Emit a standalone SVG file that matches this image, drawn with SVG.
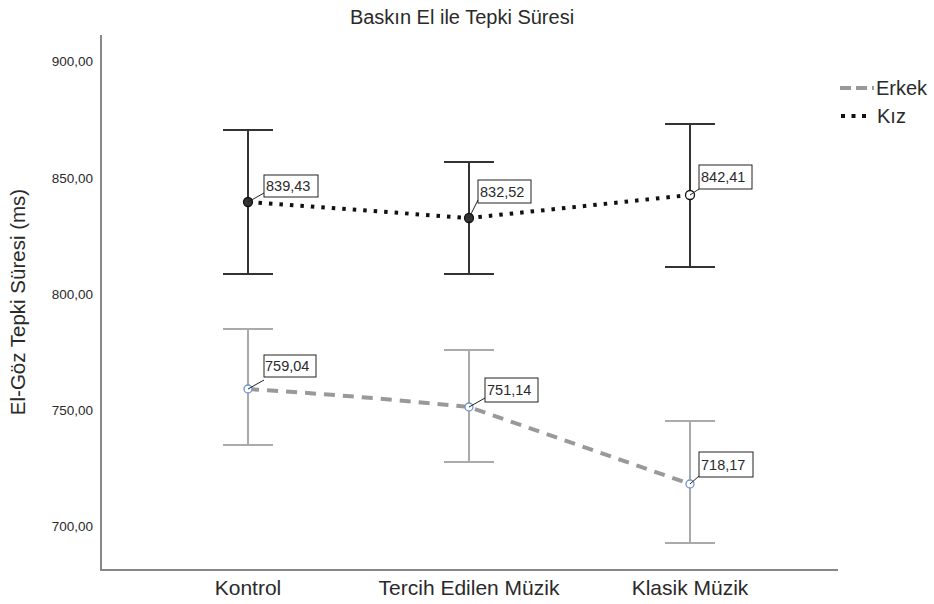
<svg xmlns="http://www.w3.org/2000/svg" width="934" height="604" viewBox="0 0 934 604">
<style>
text{font-family:"Liberation Sans",Arial,sans-serif;fill:#2a2a2a}
.tick{font-size:13.5px;text-anchor:end}
.cat{font-size:21px;text-anchor:middle}
.lbl{font-size:14.5px}
.box{fill:#fff;stroke:#222;stroke-width:1}
.axis{stroke:#888;stroke-width:2;fill:none}
.ebk{stroke:#333;stroke-width:2;fill:none}
.ebe{stroke:#aaa;stroke-width:2;fill:none}
.kiz{stroke:#111;stroke-width:4;stroke-dasharray:3.5 7;fill:none}
.erk{stroke:#999;stroke-width:4;stroke-dasharray:11 8;fill:none}
.lead{stroke:#222;stroke-width:1}
</style>
<rect width="934" height="604" fill="#fff"/>
<text x="462" y="24" style="font-size:20px;text-anchor:middle">Baskın El ile Tepki Süresi</text>
<g id="axes">
<path class="axis" d="M101,35 V570 H838"/>
<text class="tick" x="93" y="66">900,00</text>
<text class="tick" x="93" y="183">850,00</text>
<text class="tick" x="93" y="299">800,00</text>
<text class="tick" x="93" y="415">750,00</text>
<text class="tick" x="93" y="531">700,00</text>
<text transform="translate(25,302) rotate(-90)" style="font-size:20.5px;text-anchor:middle">El-Göz Tepki Süresi (ms)</text>
<text class="cat" x="248" y="595">Kontrol</text>
<text class="cat" x="469" y="595">Tercih Edilen Müzik</text>
<text class="cat" x="690" y="595">Klasik Müzik</text>
</g>
<g id="connectors">
<path class="ebe" d="M248,329 V445 M223,329 H273 M223,445 H273"/>
<path class="ebe" d="M469,350 V462 M444,350 H494 M444,462 H494"/>
<path class="ebe" d="M690,421 V543 M665,421 H715 M665,543 H715"/>
<path class="ebk" d="M248,130 V274 M223,130 H273 M223,274 H273"/>
<path class="ebk" d="M469,162 V274 M444,162 H494 M444,274 H494"/>
<path class="ebk" d="M690,124 V267 M665,124 H715 M665,267 H715"/>
<path class="erk" d="M248,389 Q360,396 469,407 L690,484"/>
<path class="kiz" d="M248,202 L469,218 L690,195"/>
</g>
<g id="erkek-points">
<circle cx="248" cy="389" r="4" fill="#fff" stroke="#6f94cc" stroke-width="1.3"/>
<circle cx="469" cy="407" r="4" fill="#fff" stroke="#6f94cc" stroke-width="1.3"/>
<circle cx="690" cy="484" r="4" fill="#fff" stroke="#6f94cc" stroke-width="1.3"/>
</g>
<g id="kiz-points">
<circle cx="248" cy="202" r="4.5" fill="#333" stroke="#111" stroke-width="1.3"/>
<circle cx="469" cy="218" r="4.5" fill="#333" stroke="#111" stroke-width="1.3"/>
<circle cx="690" cy="195" r="4.5" fill="#fff" stroke="#111" stroke-width="1.3"/>
</g>
<g id="label-83943"><line class="lead" x1="248" y1="202" x2="264" y2="193"/><rect class="box" x="264" y="175" width="54" height="22"/><text class="lbl" x="266" y="191">839,43</text></g>
<g id="label-83252"><line class="lead" x1="469" y1="218" x2="478" y2="200"/><rect class="box" x="478" y="180" width="53" height="23"/><text class="lbl" x="480" y="197">832,52</text></g>
<g id="label-84241"><line class="lead" x1="690" y1="195" x2="699" y2="189"/><rect class="box" x="699" y="165" width="53" height="24"/><text class="lbl" x="701" y="182">842,41</text></g>
<g id="label-75904"><line class="lead" x1="248" y1="389" x2="264" y2="380"/><rect class="box" x="264" y="355" width="52" height="22"/><text class="lbl" x="265" y="371">759,04</text></g>
<g id="label-75114"><line class="lead" x1="469" y1="407" x2="485" y2="398"/><rect class="box" x="485" y="378" width="53" height="24"/><text class="lbl" x="487" y="395">751,14</text></g>
<g id="label-71817"><line class="lead" x1="690" y1="484" x2="699" y2="476"/><rect class="box" x="699" y="452" width="54" height="25"/><text class="lbl" x="701" y="470">718,17</text></g>
<g id="legend">
<line x1="840" y1="88" x2="874" y2="88" stroke="#999" stroke-width="4" stroke-dasharray="11 5"/>
<text x="876" y="95" style="font-size:20px">Erkek</text>
<line x1="841" y1="116" x2="872" y2="116" stroke="#111" stroke-width="4" stroke-dasharray="4 6.5"/>
<text x="877" y="123" style="font-size:20px">Kız</text>
</g>
</svg>
